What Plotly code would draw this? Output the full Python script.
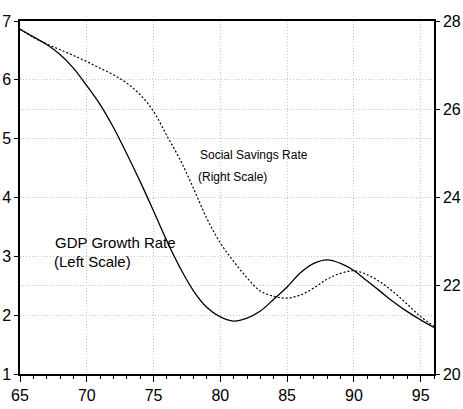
import plotly.graph_objects as go

years = list(range(65, 97))
gdp_growth = [6.86, 6.73, 6.60, 6.43, 6.20, 5.90, 5.58, 5.19, 4.74, 4.27,
              3.77, 3.26, 2.80, 2.41, 2.13, 1.97, 1.90, 1.95, 2.07, 2.27,
              2.48, 2.72, 2.88, 2.94, 2.88, 2.76, 2.58, 2.40, 2.22, 2.06,
              1.92, 1.79]
savings_rate = [27.82, 27.63, 27.48, 27.35, 27.22, 27.08, 26.93, 26.78, 26.59, 26.33,
                25.95, 25.40, 24.85, 24.20, 23.52, 22.97, 22.55, 22.18, 21.88, 21.76,
                21.72, 21.79, 21.95, 22.15, 22.28, 22.34, 22.25, 22.08, 21.85, 21.58,
                21.30, 21.08]

fig = go.Figure()
fig.add_trace(go.Scatter(x=years, y=gdp_growth, mode="lines",
                         line=dict(color="black", width=1.3, shape="spline"),
                         showlegend=False))
fig.add_trace(go.Scatter(x=years, y=savings_rate, mode="lines", yaxis="y2",
                         line=dict(color="black", width=1.2, dash="2px,2px", shape="spline"),
                         showlegend=False))

font = dict(family="Liberation Sans, Arial, sans-serif", size=16, color="black")
grid = dict(showgrid=True, gridcolor="#c4c4c4", griddash="1px,2px", gridwidth=1)

fig.update_layout(
    width=463, height=409,
    margin=dict(l=20, r=29, t=21, b=35),
    paper_bgcolor="white", plot_bgcolor="white",
    font=font,
    xaxis=dict(range=[65, 96], tick0=65, dtick=5, ticks="outside", ticklen=6,
               tickcolor="black", showline=True, linecolor="black", linewidth=1.5,
               mirror=True, zeroline=False, automargin=False,
               minor=dict(dtick=1, ticks="outside", ticklen=3, tickcolor="black", showgrid=False),
               **grid),
    yaxis=dict(range=[1, 7], dtick=1, ticks="outside", ticklen=4, tickcolor="black",
               showline=True, linecolor="black", linewidth=1.5, zeroline=False,
               automargin=False, **grid),
    yaxis2=dict(range=[20, 28], dtick=2, ticks="outside", ticklen=4, tickcolor="black",
                overlaying="y", side="right", showline=True, linecolor="black",
                linewidth=1.5, zeroline=False, automargin=False, **grid),
    annotations=[
        dict(x=78.3, y=4.72, xref="x", yref="y", text="Social Savings Rate",
             showarrow=False, xanchor="left", font=dict(size=12)),
        dict(x=78.2, y=4.35, xref="x", yref="y", text="(Right Scale)",
             showarrow=False, xanchor="left", font=dict(size=12)),
        dict(x=67.5, y=3.23, xref="x", yref="y", text="GDP Growth Rate",
             showarrow=False, xanchor="left", font=dict(size=15)),
        dict(x=67.4, y=2.91, xref="x", yref="y", text="(Left Scale)",
             showarrow=False, xanchor="left", font=dict(size=15)),
    ],
)

fig.write_html("out.html", config={"displayModeBar": False},
               post_script="document.body.style.margin='0';")
